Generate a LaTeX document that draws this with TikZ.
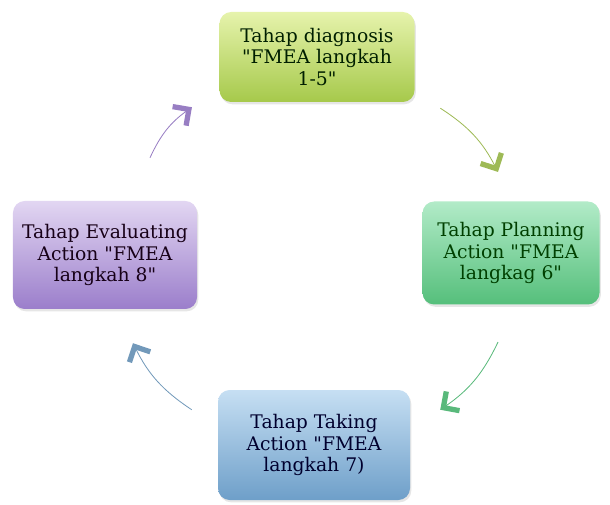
\documentclass[tikz,border=0pt]{standalone}
\usepackage{fontspec}
\setmainfont{DejaVu Serif}[Ligatures=TeXOff]
\usetikzlibrary{arrows.meta,shadows}

\definecolor{diagtop}{HTML}{E6F3AC}
\definecolor{diagbot}{HTML}{A6C94B}
\definecolor{plantop}{HTML}{B2EBC8}
\definecolor{planbot}{HTML}{55BF7B}
\definecolor{taketop}{HTML}{C6DFF3}
\definecolor{takebot}{HTML}{6E9FC9}
\definecolor{evaltop}{HTML}{E2D6F2}
\definecolor{evalbot}{HTML}{9B7ECB}

\begin{document}
\begin{tikzpicture}[
	stage/.style={rounded corners=10pt, align=center, inner sep=2pt,
		font=\fontsize{16}{18.5}\selectfont,
		drop shadow={opacity=.2, shadow xshift=.04cm, shadow yshift=-.07cm}},
	cyc/.style={line width=.7pt, bend left=15,
		-{Straight Barb[length=3.5mm, width=7mm, line width=4.5pt]}}]
\useasboundingbox (0,0) rectangle (18.3,15.12);
% four stages, clockwise from the top
\node[stage, top color=diagtop, bottom color=diagbot, text=black!70!green!40!black,
	minimum width=5.85cm, minimum height=2.7cm] (diag) at (9.51,13.41)
	{Tahap diagnosis\\"FMEA langkah\\1-5"};
\node[stage, top color=plantop, bottom color=planbot, text=black!75!green,
	minimum width=5.31cm, minimum height=3.09cm] (plan) at (15.33,7.53)
	{Tahap Planning\\Action "FMEA\\langkag 6"};
\node[stage, top color=taketop, bottom color=takebot, text=black!70!blue!60!black,
	minimum width=5.76cm, minimum height=3.3cm] (take) at (9.42,1.77)
	{Tahap Taking\\Action "FMEA\\langkah 7)};
\node[stage, top color=evaltop, bottom color=evalbot, text=black!70!violet!60!black,
	minimum width=5.52cm, minimum height=3.24cm] (eval) at (3.15,7.47)
	{Tahap Evaluating\\Action "FMEA\\langkah 8"};
% arrow ends
\coordinate (d1) at ([shift={(.77,-.18)}]diag.south east);
\coordinate (p1) at ([shift={(-.39,.88)}]plan.north);
\coordinate (p2) at ([shift={(-.39,-1.12)}]plan.south);
\coordinate (t1) at ([shift={(.9,-.6)}]take.north east);
\coordinate (t2) at ([shift={(-.78,-.6)}]take.north west);
\coordinate (e1) at ([shift={(.84,-1.02)}]eval.south);
\coordinate (e2) at ([shift={(1.35,1.29)}]eval.north);
\coordinate (d2) at ([shift={(-.82,-.15)}]diag.south west);
\draw[cyc, draw=diagbot!80!gray] (d1) to (p1);
\draw[cyc, draw=planbot!90!gray] (p2) to (t1);
\draw[cyc, draw=takebot!80!gray] (t2) to (e1);
\draw[cyc, draw=evalbot!90!gray] (e2) to (d2);
\end{tikzpicture}
\end{document}
